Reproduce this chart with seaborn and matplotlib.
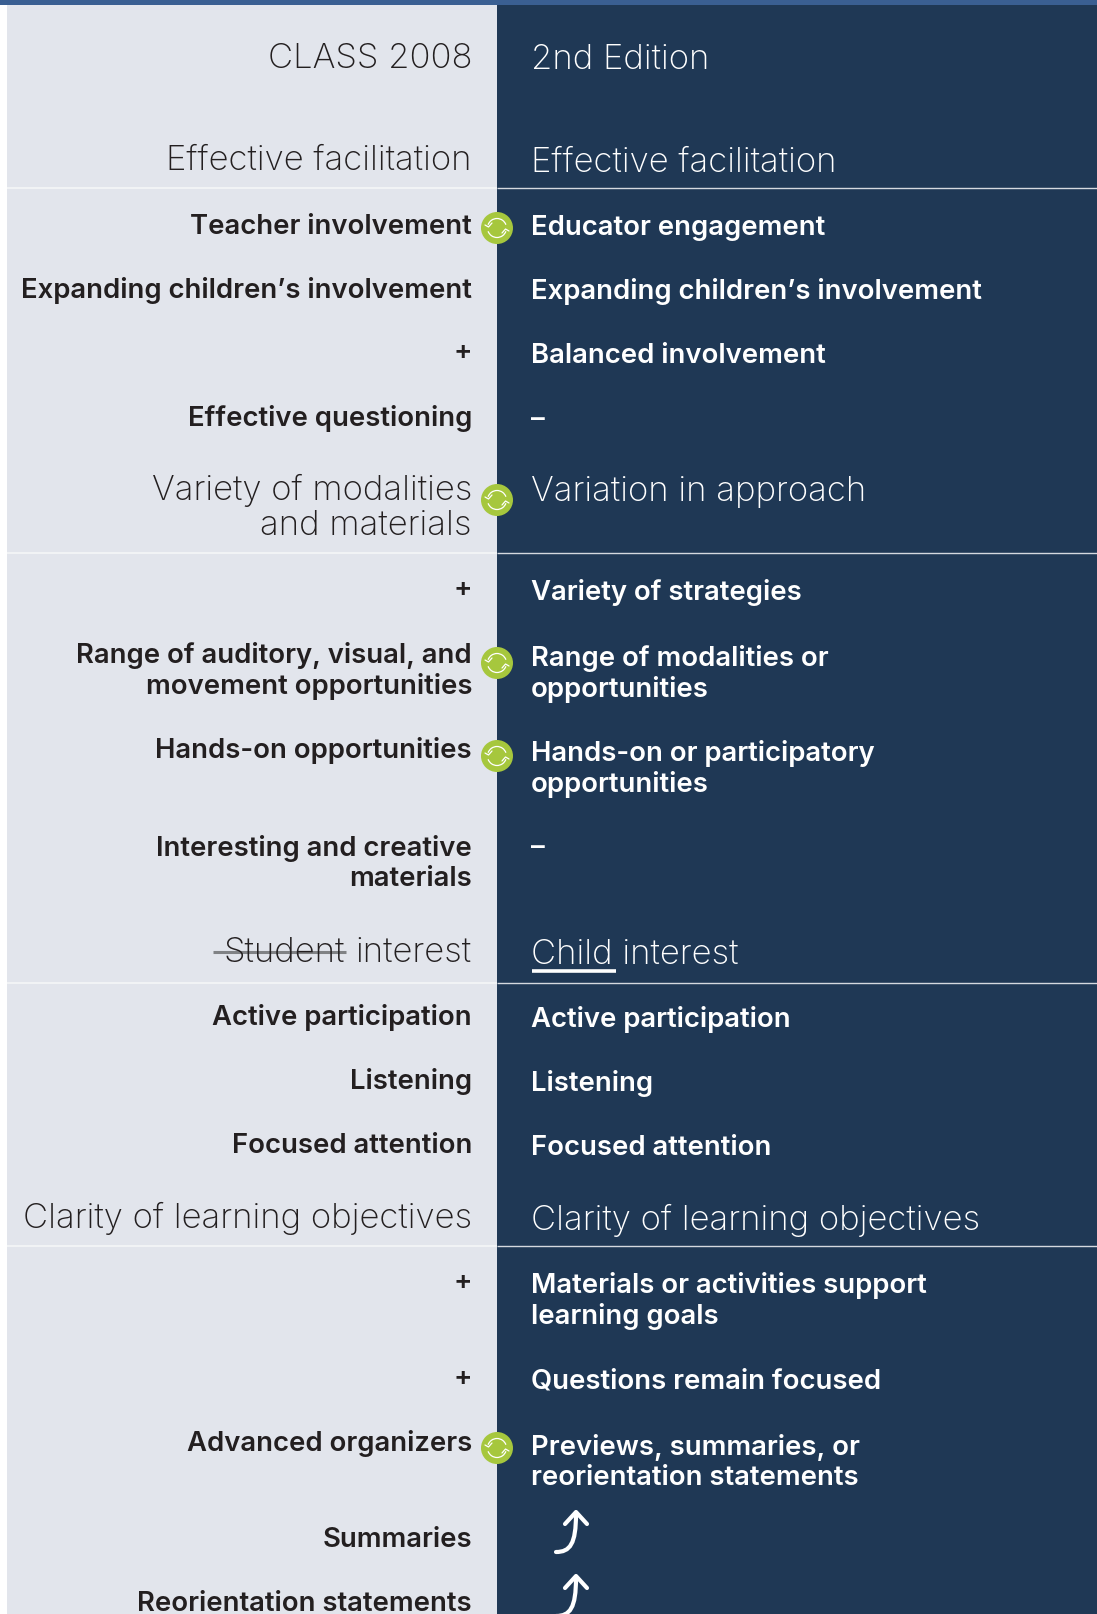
import numpy as np
import matplotlib
matplotlib.use("Agg")
import matplotlib.pyplot as plt
from matplotlib.colors import ListedColormap
from matplotlib.patches import Circle, PathPatch, Arc
from matplotlib.path import Path
import seaborn as sns

headers = ["CLASS 2008", "2nd Edition"]

left_sections = ["Effective facilitation", "Variety of modalities\nand materials",
                 "Student interest", "Clarity of learning objectives"]
right_sections = ["Effective facilitation", "Variation in approach",
                  "Child interest", "Clarity of learning objectives"]

left_items = ["Teacher involvement", "Expanding children’s involvement", "+", "Effective questioning",
              "+", "Range of auditory, visual, and\nmovement opportunities", "Hands-on opportunities",
              "Interesting and creative\nmaterials",
              "Active participation", "Listening", "Focused attention",
              "+", "+", "Advanced organizers", "Summaries", "Reorientation statements"]
right_items = ["Educator engagement", "Expanding children’s involvement", "Balanced involvement", "–",
               "Variety of strategies", "Range of modalities or\nopportunities",
               "Hands-on or participatory\nopportunities", "–",
               "Active participation", "Listening", "Focused attention",
               "Materials or activities support\nlearning goals", "Questions remain focused",
               "Previews, summaries, or\nreorientation statements", "", ""]

# layout, in pixels of the 1097x1615 picture (y = baseline of a text's last line)
W, H = 1097, 1615
SPLIT = 497
TOP = 5.5
LEFT_X, RIGHT_X = 472, 531
header_y = [68, 69]
left_section_y = [170, 534.5, 962, 1228]
right_section_y = [172, 501.5, 964, 1230]
rule_y = [188.5, 554, 983.5, 1247]
left_item_y = [234, 298, 360, 426, 597, 694, 758, 886, 1025, 1089, 1153, 1290, 1386, 1451, 1547, 1611]
right_item_y = [235, 299, 363, 427, 600, 697, 792, 855, 1027, 1091, 1155, 1324, 1389, 1485, 0, 0]
swap_y = [229, 501, 664, 757, 1449]
arrow_y = [1553, 1617]

DARK, LIGHT, BAND = "#1f3855", "#e2e5ec", "#3a5f92"
GREEN, INK = "#a6c73d", "#231f20"
SECTION_SIZE = 25
ITEM_SIZE = 19.8

sns.set_theme(style="white")
plt.rcParams["font.family"] = ["Inter", "DejaVu Sans"]

fig = plt.figure(figsize=(W / 100, H / 100), dpi=100)
fig.patch.set_facecolor("white")

# two panels as a one-row heatmap (one cell = 10 px)
panel_ax = fig.add_axes([7 / W, 0, (W - 7) / W, 1 - TOP / H])
panel_cells = np.array([[0] * 49 + [1] * 60])
sns.heatmap(panel_cells, ax=panel_ax, cmap=ListedColormap([LIGHT, DARK]), cbar=False,
            xticklabels=False, yticklabels=False)

ax = fig.add_axes([0, 0, 1, 1])
ax.set_xlim(0, W)
ax.set_ylim(H, 0)
ax.axis("off")
ax.patch.set_alpha(0)

ax.fill_between([0, W], 0, TOP, color=BAND, lw=0)

for y in rule_y:
    ax.plot([7, SPLIT], [y, y], color="#f5f6f8", lw=1.2, solid_capstyle="butt")
    ax.plot([SPLIT, W], [y, y], color="#d5d9df", lw=1.0, solid_capstyle="butt")


def put(x, y, s, size, weight, color, ha, linespacing=1.0):
    return ax.text(x, y, s, fontsize=size, fontweight=weight, color=color, ha=ha, va="baseline",
                   linespacing=linespacing)


put(LEFT_X, header_y[0], headers[0], SECTION_SIZE, "light", INK, "right")
put(RIGHT_X, header_y[1], headers[1], SECTION_SIZE, "light", "white", "left")

for i, y in enumerate(left_section_y):
    if i == 2:
        struck, rest = left_sections[i].split()
        put(LEFT_X, y, rest, SECTION_SIZE, "light", INK, "right")
        put(345, y, struck, SECTION_SIZE, "light", INK, "right")
    else:
        put(LEFT_X, y, left_sections[i], SECTION_SIZE, "light", INK, "right", 1.08)

for y, s in zip(right_section_y, right_sections):
    put(RIGHT_X, y, s, SECTION_SIZE, "light", "white", "left")

ax.plot([213, 346], [953, 953], color="#808285", lw=2.2, solid_capstyle="butt")
ax.plot([532, 616], [972, 972], color="white", lw=2.6, solid_capstyle="butt")

for y, s in zip(left_item_y, left_items):
    put(LEFT_X, y, s, ITEM_SIZE, "semibold", INK, "right", 1.2)
for y, s in zip(right_item_y, right_items):
    if s:
        put(RIGHT_X, y, s, ITEM_SIZE, "semibold", "white", "left", 1.2)

for y in swap_y:
    ax.add_patch(Circle((SPLIT, y), 16, color=GREEN, lw=0, zorder=4))
    ax.add_patch(Arc((SPLIT, y), 19, 19, theta1=200, theta2=340, color="white", lw=0.9, zorder=5))
    ax.add_patch(Arc((SPLIT, y), 19, 19, theta1=20, theta2=160, color="white", lw=0.9, zorder=5))
    ax.plot([SPLIT - 12, SPLIT - 8.5, SPLIT - 5], [y - 3, y - 1, y - 5], color="white", lw=0.9, zorder=5)
    ax.plot([SPLIT + 5, SPLIT + 8.5, SPLIT + 12], [y + 5, y + 1, y + 3], color="white", lw=0.9, zorder=5)

for y in arrow_y:
    verts = [(556, y), (570, y), (576, y - 8), (576, y - 38)]
    path = Path(verts, [Path.MOVETO, Path.CURVE4, Path.CURVE4, Path.CURVE4])
    ax.add_patch(PathPatch(path, fc="none", ec="white", lw=3, capstyle="round"))
    ax.plot([565, 576, 587], [y - 28, y - 40, y - 28], color="white", lw=3,
            solid_capstyle="round", solid_joinstyle="round")

fig.savefig("out.png", dpi=100)
